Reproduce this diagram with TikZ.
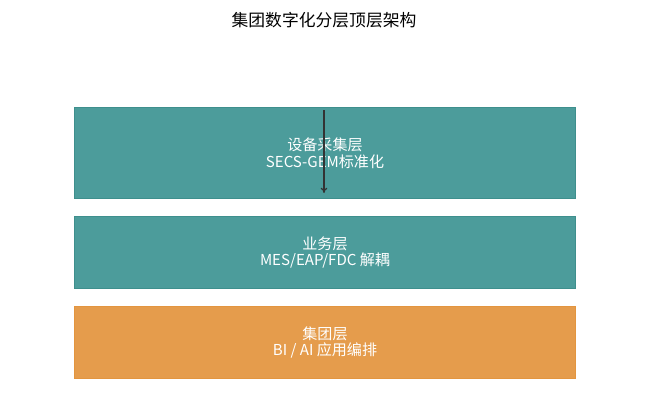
\documentclass[tikz,border=0pt]{standalone}
\usepackage{fontspec}
\setmainfont{Noto Sans CJK SC}
\usetikzlibrary{arrows.meta}
\definecolor{tealfill}{HTML}{4C9C9B}
\definecolor{tealline}{HTML}{3E8F8D}
\definecolor{orfill}{HTML}{E59C4C}
\definecolor{orline}{HTML}{E3953F}
\definecolor{arrowc}{HTML}{333333}
\begin{document}
\begin{tikzpicture}[x=0.75pt,y=-0.75pt,
  layer/.style={draw, line width=0.75pt, minimum width=501*0.75pt, anchor=north west, inner sep=0pt,
    text=white, font=\fontsize{11.3}{12.5}\selectfont, align=center},
  tl/.style={layer, fill=tealfill, draw=tealline},
  ol/.style={layer, fill=orfill, draw=orline},
  title/.style={font=\fontsize{12.6}{14}\selectfont, text=black}]
\useasboundingbox (0,0) rectangle (648,407);
\node[title] (t) at (324,20) {集团数字化分层顶层架构};
\node[tl, minimum height=91*0.75pt] (l1) at (74,107) {设备采集层\\SECS-GEM标准化};
\node[tl, minimum height=72*0.75pt] (l2) at (74,216) {业务层\\MES/EAP/FDC 解耦};
\node[ol, minimum height=72*0.75pt] (l3) at (74,306) {集团层\\BI / AI 应用编排};
\coordinate (a1) at (324,110);
\coordinate (a2) at (324,193);
\draw[arrowc, line width=0.9pt, -{To[length=4pt,width=5pt]}] (a1) -- (a2);
\end{tikzpicture}
\end{document}
